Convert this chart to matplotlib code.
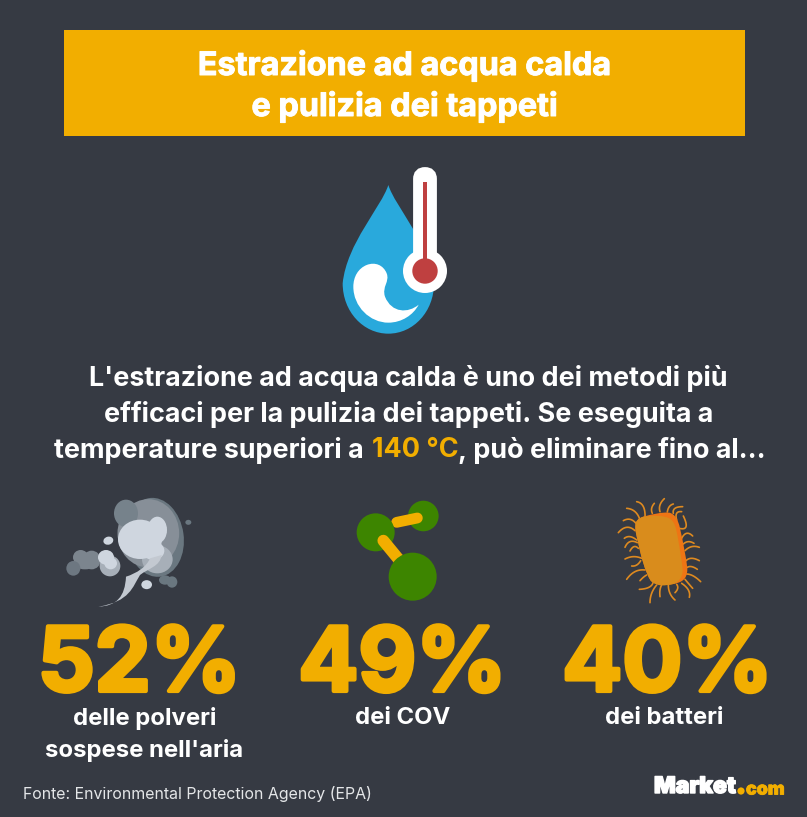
import matplotlib
matplotlib.use('Agg')
import matplotlib.pyplot as plt
import matplotlib.patheffects as pe
from matplotlib.patches import Rectangle, Circle, Ellipse, FancyBboxPatch, PathPatch
from matplotlib.path import Path
import numpy as np

W = 807
H = 817

BG = '#363a43'
ORANGE = '#f2ae00'
WHITE = '#ffffff'

title_lines = ['Estrazione ad acqua calda', 'e pulizia dei tappeti']
body_lines = ["L'estrazione ad acqua calda è uno dei metodi più",
              'efficaci per la pulizia dei tappeti. Se eseguita a']
body_last = ['temperature superiori a ', '140 °C', ', può eliminare fino al...']
percent_values = [52, 49, 40]
percent_labels = ["delle polveri\nsospese nell'aria", 'dei COV', 'dei batteri']
source = 'Fonte: Environmental Protection Agency (EPA)'

plt.rcParams['font.family'] = ['Inter', 'DejaVu Sans']

fig = plt.figure(figsize=(W / 100, H / 100), dpi=100, facecolor=BG)
ax = fig.add_axes([0, 0, 1, 1])
ax.set_xlim(0, W)
ax.set_ylim(H, 0)
ax.axis('off')


def zoomed(pts, x0, y0):
    return [(x0 + a / 3, y0 + b / 3) for a, b in pts]


def bez(pts, x0, y0, color, z=3):
    # first point then triples of cubic controls
    v = zoomed(pts, x0, y0)
    codes = [Path.MOVETO] + [Path.CURVE4] * (len(v) - 1)
    ax.add_patch(PathPatch(Path(v, codes), fc=color, ec='none', zorder=z))


def puff(cx, cy, w, h, color, z=3, angle=0):
    ax.add_patch(Ellipse((50 + cx / 3, 480 + cy / 3), w / 3, h / 3, angle=angle, fc=color, ec='none', zorder=z))


def curve(pts, x0, y0, color, lw):
    p = np.array(zoomed(pts, x0, y0))
    t = np.linspace(0, 1, len(p))
    tt = np.linspace(0, 1, 30)
    c = np.polyfit(t, p, min(len(p) - 1, 3))
    xs = np.polyval(c[:, 0], tt)
    ys = np.polyval(c[:, 1], tt)
    ax.plot(xs, ys, color=color, lw=lw, solid_capstyle='round', zorder=2)


# title band
ax.add_patch(Rectangle((64, 30), 681, 106, fc=ORANGE, ec='none', zorder=1))
for i, line in enumerate(title_lines):
    ax.text(404.5, 66 + i * 41, line, color=WHITE, fontsize=23.3, fontweight='bold',
            ha='center', va='center', zorder=2,
            path_effects=[pe.withStroke(linewidth=0.7, foreground=WHITE)])

# drop + thermometer
bez([(205, 105), (225, 170), (330, 280), (342, 400), (342, 485), (280, 551), (205, 551),
     (130, 551), (68, 485), (68, 400), (80, 280), (185, 170), (205, 105)], 320, 150, '#29a9dc', 2)
bez([(296, 464), (265, 490), (215, 490), (195, 440), (185, 410), (210, 395), (200, 370),
     (190, 345), (165, 335), (140, 345), (115, 355), (100, 380), (100, 410),
     (100, 470), (150, 518), (205, 518), (245, 518), (280, 495), (296, 464)], 320, 150, WHITE)
ax.add_patch(FancyBboxPatch((419, 173), 12, 100, boxstyle='round,pad=0,rounding_size=6', fc=WHITE, ec=WHITE,
                            lw=8.5, zorder=4))
ax.add_patch(Circle((425, 271), 22, fc=WHITE, ec='none', zorder=4))
ax.add_patch(Rectangle((422.8, 182), 4, 86, fc='#bf4040', ec='none', zorder=5))
ax.add_patch(Circle((425, 271), 12.7, fc='#bf4040', ec='none', zorder=5))

# body text
for i, line in enumerate(body_lines):
    ax.text(408.5, 378 + i * 36, line, color=WHITE, fontsize=19.4, fontweight='bold',
            ha='center', va='center')
r = fig.canvas.get_renderer()
x = 54
nudge = [2.5, -1, 0]
for part, n in zip(body_last, nudge):
    col = ORANGE if part.startswith('140') else WHITE
    t = ax.text(x, 450, part, color=col, fontsize=19.4, fontweight='bold', ha='left', va='center')
    x += t.get_window_extent(r).width + n

# smoke
smoke_dark = '#6a7780'
smoke_mid = '#878f98'
smoke_lgt = '#a7afb8'
smoke_pale = '#cfd6df'
puff(315, 172, 172, 238, smoke_dark, angle=-8)
puff(295, 160, 185, 205, smoke_mid)
puff(228, 100, 72, 82, '#76828b')
puff(322, 238, 92, 84, smoke_lgt)
puff(270, 178, 132, 118, smoke_pale)
puff(322, 150, 58, 80, smoke_pale)
puff(310, 212, 66, 56, smoke_pale)
bez([(145, 380), (200, 378), (225, 350), (228, 290), (260, 280), (290, 260), (300, 235),
     (310, 232), (325, 228), (335, 225), (330, 260), (295, 265), (270, 285),
     (248, 320), (240, 365), (145, 380)], 50, 480, '#c3c9d1', 4)
puff(415, 127, 18, 15, smoke_dark)
puff(175, 182, 30, 24, smoke_pale, angle=-15)
puff(290, 314, 32, 27, smoke_pale)
puff(345, 300, 36, 28, smoke_dark)
puff(366, 306, 32, 34, smoke_dark)
puff(92, 232, 46, 44, '#7c858e')
puff(125, 240, 54, 56, '#7c858e')
puff(105, 250, 70, 36, '#7c858e')
puff(70, 265, 42, 44, '#6d7781')
puff(180, 258, 62, 62, smoke_lgt)
puff(168, 232, 48, 44, smoke_pale)
puff(182, 250, 38, 36, smoke_pale)

# molecule
GREEN = '#3d8500'
ax.add_patch(Circle((340 + 250 / 3, 490 + 78 / 3), 15.3, fc=GREEN, ec='none', zorder=2))
ax.plot([340 + 170 / 3, 340 + 232 / 3], [490 + 97 / 3, 490 + 84 / 3], color=ORANGE, lw=7.8, solid_capstyle='round', zorder=3)
ax.add_patch(Circle((340 + 107 / 3, 490 + 127 / 3), 19, fc=GREEN, ec='none', zorder=3))
ax.plot([340 + 130 / 3, 340 + 190 / 3], [490 + 152 / 3, 490 + 225 / 3], color=ORANGE, lw=8.5, solid_capstyle='round', zorder=4)
ax.add_patch(Circle((340 + 218 / 3, 490 + 260 / 3), 24, fc=GREEN, ec='none', zorder=5))

# bacterium
hairs = [[(105, 85), (100, 50), (80, 35)], [(90, 90), (75, 65), (50, 55)], [(78, 100), (60, 88), (40, 92)],
         [(75, 122), (50, 112), (25, 128)], [(80, 150), (60, 140), (43, 145)], [(82, 158), (60, 155), (45, 172)],
         [(85, 175), (72, 170), (60, 183)], [(95, 205), (70, 200), (45, 207)], [(92, 212), (80, 225), (65, 228)],
         [(105, 240), (75, 245), (50, 268)], [(110, 255), (100, 262), (90, 272)], [(130, 270), (120, 290), (88, 298)],
         [(140, 285), (125, 310), (120, 338)], [(155, 285), (150, 300), (150, 320)], [(175, 285), (180, 310), (195, 330)],
         [(200, 283), (203, 295), (195, 308)], [(215, 280), (235, 300), (238, 322)], [(225, 268), (235, 280), (248, 295)],
         [(230, 252), (250, 258), (272, 275)], [(232, 232), (245, 230), (262, 238)], [(228, 212), (245, 205), (268, 212)],
         [(225, 182), (245, 170), (268, 172)], [(220, 162), (235, 155), (252, 160)], [(215, 145), (230, 130), (248, 138)],
         [(208, 115), (228, 110), (220, 78)], [(200, 90), (200, 70), (215, 65)], [(190, 70), (195, 55), (218, 50)],
         [(172, 66), (178, 50), (190, 42)], [(150, 65), (150, 45), (163, 26)], [(127, 70), (125, 55), (133, 40)]]
for h in hairs:
    curve(h, 610, 490, '#de8a20', 1.2)
bez([(76, 110), (76, 92), (85, 85), (100, 80), (130, 72), (155, 66), (178, 68), (195, 72), (205, 90), (210, 115),
     (220, 160), (228, 200), (232, 235), (232, 262), (222, 272), (205, 278), (180, 287), (140, 290), (122, 272),
     (105, 245), (92, 195), (85, 160), (80, 140), (76, 125), (76, 110)], 610, 490, '#ee7514')
bez([(76, 110), (76, 92), (85, 85), (100, 80), (130, 76), (160, 76), (178, 85), (195, 95), (198, 115), (203, 140),
     (210, 180), (216, 215), (218, 240), (218, 262), (205, 278), (190, 282), (165, 288), (140, 290), (122, 272),
     (105, 245), (92, 195), (85, 160), (80, 140), (76, 125), (76, 110)], 610, 490, '#d98c1c')

# big numbers
centers = [139.5, 402.5, 667.5]
label_x = [144.5, 402.5, 664.5]
for c, lx, v, lab in zip(centers, label_x, percent_values, percent_labels):
    ax.text(c, 691, f'{v}%', color=ORANGE, fontsize=64, fontweight='bold', ha='center', va='baseline',
            path_effects=[pe.withStroke(linewidth=3, foreground=ORANGE)])
    for j, line in enumerate(lab.split('\n')):
        ax.text(lx, 718.5 + j * 32, line, color=WHITE, fontsize=17.2, fontweight='bold',
                ha='center', va='center')

# footer
ax.text(23, 794, source, color='#e4e6e8', fontsize=11.45, ha='left', va='center')
ax.text(654, 787, 'Market', color=WHITE, fontsize=16.4, fontweight='black', ha='left', va='center',
        path_effects=[pe.withStroke(linewidth=1.0, foreground=WHITE)])
ax.add_patch(Circle((741, 791), 3.6, fc=ORANGE, ec='none'))
ax.text(746, 790, 'com', color=ORANGE, fontsize=12.8, fontweight='black', ha='left', va='center',
        path_effects=[pe.withStroke(linewidth=0.6, foreground=ORANGE)])

fig.savefig('out.png', dpi=100, facecolor=BG)
